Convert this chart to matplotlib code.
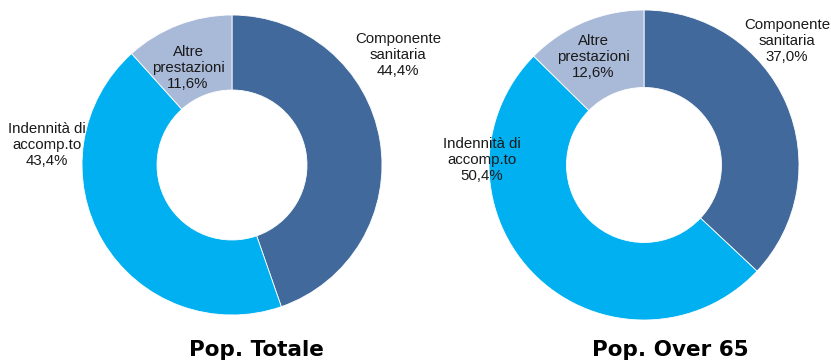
import matplotlib.pyplot as plt

# data
categories = ['Componente\nsanitaria', 'Indennità di\naccomp.to', 'Altre\nprestazioni']
pop_totale = [44.4, 43.4, 11.6]
pop_over65 = [37.0, 50.4, 12.6]
titles = ['Pop. Totale', 'Pop. Over 65']
colors = ['#41699B', '#00B0F0', '#A9B9D8']

W, H = 831, 364

fig = plt.figure(figsize=(W / 100, H / 100), dpi=100)
ax = fig.add_axes([0, 0, 1, 1])

# donut layout in pixel units (centre x, centre y from top, radius)
donuts = [
    (pop_totale, (232, 165), 150),
    (pop_over65, (644, 165), 155),
]
# label centres (pixels from top-left), same order as categories
label_pos = [
    [(398, 55), (47, 145), (188, 68)],
    [(787, 41), (482, 160), (593, 57)],
]
title_pos = [(256, 350), (670, 350)]

for (vals, (cx, cy), r), lpos, title, tpos in zip(donuts, label_pos, titles, title_pos):
    ax.pie(vals, colors=colors, startangle=90, counterclock=False,
           center=(cx, H - cy), radius=r, frame=True,
           wedgeprops=dict(width=r * 0.5, edgecolor='white', linewidth=0.6))
    for cat, v, (lx, ly) in zip(categories, vals, lpos):
        txt = cat + '\n' + f"{v:.1f}".replace('.', ',') + '%'
        ax.text(lx, H - ly, txt, ha='center', va='center', fontsize=10.8,
                family='Liberation Sans', linespacing=1.2, color='#1a1a1a')
    ax.text(tpos[0], H - tpos[1], title, ha='center', va='center',
            fontsize=15.5, fontweight='bold', family='DejaVu Sans', color='black')

ax.set_xlim(0, W)
ax.set_ylim(0, H)
ax.set_aspect('equal')
ax.axis('off')

fig.savefig('out.png', dpi=100)
